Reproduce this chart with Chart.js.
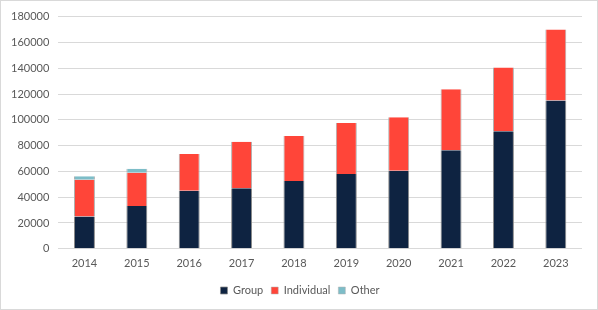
<!DOCTYPE html>
<html><head><meta charset="utf-8">
<script src="https://cdn.jsdelivr.net/npm/chart.js@4"></script>
<style>
html,body{margin:0;padding:0;background:#fff;}
#wrap{width:598px;height:310px;box-sizing:border-box;border:1px solid #d9d9d9;position:relative;}
canvas{display:block;}
</style></head>
<body><div id="wrap"><canvas id="c" width="596" height="308"></canvas></div>
<script>
const years = ["2014","2015","2016","2017","2018","2019","2020","2021","2022","2023"];
const groupVals = [25000,33200,45000,47000,52500,58000,60500,76300,91200,115000];
const individualVals = [28500,25800,28500,36000,35000,39500,41500,47300,49400,55000];
const otherVals = [2700,3000,0,0,0,0,0,0,0,0];

const fontFam = "Lato, 'Open Sans', sans-serif";
const legendShift = {
  id:'legendShift',
  afterLayout(chart){ if (chart.legend){ chart.legend.left += 8; chart.legend.right += 8; } }
};
new Chart(document.getElementById('c'), {
  type: 'bar',
  data: {
    labels: years,
    datasets: [
      {label:'Group', data: groupVals, backgroundColor:'#0E2341', borderColor:'#8a8a8a', borderWidth:{left:1,right:1,bottom:1,top:0}},
      {label:'Individual', data: individualVals, backgroundColor:'#FF4539', borderColor:'#b0b0b0', borderWidth:{left:1,right:1,top:0,bottom:0}},
      {label:'Other', data: otherVals, backgroundColor:'#7DBDC8', borderColor:'#b0b0b0', borderWidth:{left:1,right:1,top:0,bottom:0}}
    ]
  },
  plugins:[legendShift],
  options: {
    responsive:false, animation:false,
    layout:{padding:{top:7,right:15,left:1,bottom:3}},
    datasets:{bar:{categoryPercentage:1, barPercentage:0.4}},
    scales:{
      x:{stacked:true, grid:{display:false}, border:{display:false},
         ticks:{color:'#595959', font:{family:fontFam,size:11}, padding:0},
         afterFit:(s)=>{s.height += 7;}},
      y:{stacked:true, min:0, max:180000,
         ticks:{stepSize:20000, color:'#595959', font:{family:fontFam,size:11}, padding:9, callback:(v)=>String(v)},
         grid:{color:'#d9d9d9', drawTicks:false}, border:{display:false}}
    },
    plugins:{
      legend:{position:'bottom', labels:{boxWidth:7, boxHeight:7, color:'#595959', font:{family:fontFam,size:11}, padding:8}},
      tooltip:{enabled:false}
    }
  }
});
</script></body></html>
